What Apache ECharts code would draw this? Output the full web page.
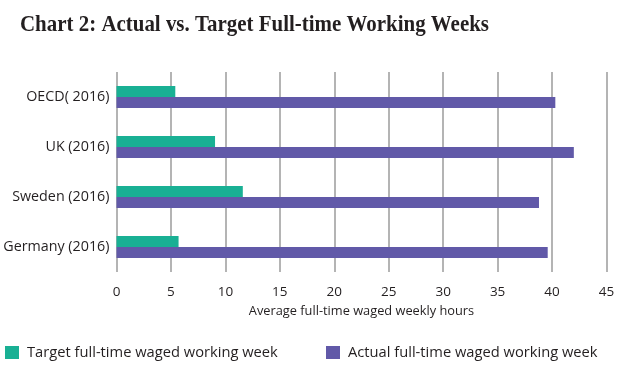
<!DOCTYPE html>
<html><head><meta charset="utf-8">
<script src="https://cdn.jsdelivr.net/npm/echarts@6/dist/echarts.min.js"></script>
<style>html,body{margin:0;padding:0;background:#fff}#c{width:628px;height:372px}</style>
</head><body><div id="c"></div>
<script>
const categories = ['Germany (2016)', 'Sweden (2016)', 'UK (2016)', 'OECD( 2016)'];
const targetHours = [5.7, 11.6, 9.05, 5.4];
const actualHours = [39.6, 38.8, 42.0, 40.3];
const seriesNames = ['Target full-time waged working week', 'Actual full-time waged working week'];
const titleText = 'Chart 2: Actual vs. Target Full-time Working Weeks';
const xAxisName = 'Average full-time waged weekly hours';

const chart = echarts.init(document.getElementById('c'), null, {renderer: 'canvas'});
const sans = 'Open Sans';
chart.setOption({
  animation: false,
  graphic: [{
    type: 'text', left: 20, top: 14, scaleX: 0.91, originX: 0,
    style: {text: titleText, font: 'bold 23px "Liberation Serif"', fill: '#231f20'}
  }],
  legend: [
    {data: [seriesNames[0]], left: 5, top: 345, itemWidth: 14, itemHeight: 13, icon: 'rect',
     textStyle: {fontFamily: sans, fontSize: 14.7, color: '#231f20', padding: [0,0,0,3]}, padding: 0},
    {data: [seriesNames[1]], left: 326, top: 345, itemWidth: 14, itemHeight: 13, icon: 'rect',
     textStyle: {fontFamily: sans, fontSize: 14.7, color: '#231f20', padding: [0,0,0,3]}, padding: 0}
  ],
  grid: {left: 116.5, right: 21.5, top: 72, height: 200, containLabel: false},
  xAxis: {
    type: 'value', min: 0, max: 45, interval: 5,
    name: xAxisName, nameLocation: 'middle', nameGap: 33,
    nameTextStyle: {fontFamily: sans, fontSize: 12.8, color: '#231f20'},
    axisLine: {show: false}, axisTick: {show: false},
    axisLabel: {fontFamily: sans, fontSize: 13.5, color: '#231f20', margin: 13},
    splitLine: {show: true, lineStyle: {color: '#9b9b9b', width: 1.5}}
  },
  yAxis: {
    type: 'category', data: categories,
    axisLine: {show: false}, axisTick: {show: false},
    axisLabel: {fontFamily: sans, fontSize: 14.3, color: '#231f20', margin: 7}
  },
  series: [
    {name: seriesNames[0], type: 'bar', data: targetHours, barWidth: 11, barGap: '0%',
     itemStyle: {color: '#19b094'}},
    {name: seriesNames[1], type: 'bar', data: actualHours, barWidth: 11, barGap: '0%',
     itemStyle: {color: '#6159a8'}}
  ]
});
</script></body></html>
